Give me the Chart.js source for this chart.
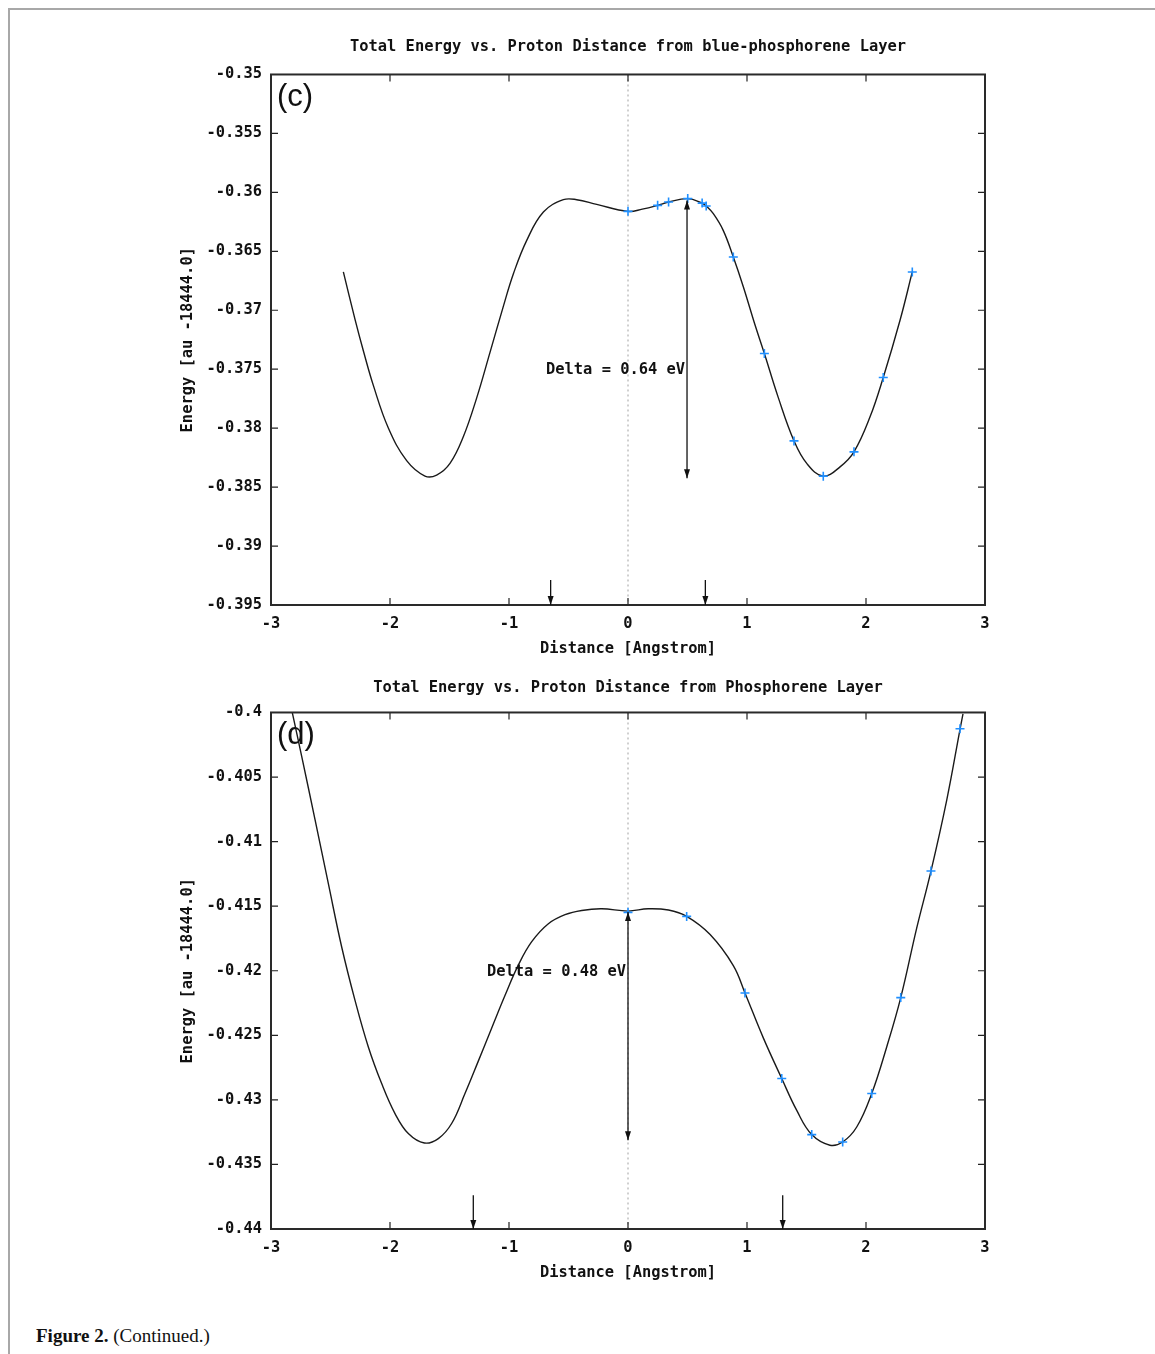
<!DOCTYPE html>
<html>
<head>
<meta charset="utf-8">
<script src="https://cdn.jsdelivr.net/npm/chart.js@4"></script>
<style>
  html, body { margin: 0; padding: 0; background: #fff; }
  body { width: 1155px; height: 1354px; position: relative; overflow: hidden; }
  .frame { position: absolute; left: 8px; top: 8px; right: -4px; bottom: -4px; border-left: 2px solid #a8a8a8; border-top: 2px solid #a8a8a8; }
  canvas { position: absolute; left: 0; }
  #chartC { top: 0; }
  #chartD { top: 624px; }
  .panel { position: absolute; left: 277px; font: 31px "Liberation Sans", Arial, sans-serif; line-height: 1; color: #111; }
  .caption { position: absolute; left: 36px; top: 1325px; font: 19px "Liberation Serif", serif; line-height: 22px; color: #111; }
</style>
</head>
<body>
<div class="frame"></div>
<canvas id="chartC" width="1155" height="668"></canvas>
<canvas id="chartD" width="1155" height="668"></canvas>
<div class="panel" style="top:80px">(c)</div>
<div class="panel" style="top:718px">(d)</div>
<div class="caption"><b>Figure 2.</b> (Continued.)</div>

<script>
// axis ticks
const xTicks = [-3, -2, -1, 0, 1, 2, 3];
const yTicksC = [-0.35, -0.355, -0.36, -0.365, -0.37, -0.375, -0.38, -0.385, -0.39, -0.395];
const yTicksD = [-0.4, -0.405, -0.41, -0.415, -0.42, -0.425, -0.43, -0.435, -0.44];

// (c) blue-phosphorene: fitted curve
const curveXC = [-2.392, -2.294, -2.224, -2.14, -2.014, -1.86, -1.706, -1.608, -1.496, -1.384, -1.272, -1.159, -1.047, -0.963, -0.851, -0.711, -0.543, -0.431, -0.263, 0,
  0.12, 0.249, 0.341, 0.502, 0.623, 0.657, 0.717, 0.8, 0.885, 0.969, 1.067, 1.146, 1.263, 1.395, 1.502, 1.641, 1.782, 1.899, 2.034, 2.145, 2.286, 2.389];
const curveYC = [-0.36675, -0.37077, -0.37343, -0.37637, -0.37998, -0.38275, -0.38406, -0.38398, -0.38299, -0.38073, -0.37745, -0.37355, -0.36965, -0.3669, -0.36407, -0.36167, -0.36062, -0.36062, -0.36102, -0.36161,
  -0.36142, -0.3611, -0.36082, -0.36053, -0.36091, -0.36116, -0.36181, -0.36322, -0.36548, -0.368, -0.37123, -0.37367, -0.37741, -0.38108, -0.38299, -0.38407, -0.38328, -0.38201, -0.37904, -0.3757, -0.37085, -0.36675];
// (c) computed points (blue crosses)
const markXC = [0, 0.249, 0.341, 0.502, 0.623, 0.657, 0.885, 1.146, 1.395, 1.641, 1.899, 2.145, 2.389];
const markYC = [-0.36161, -0.3611, -0.36082, -0.36053, -0.36091, -0.36116, -0.36548, -0.37367, -0.38108, -0.38407, -0.38201, -0.3757, -0.36675];

// (d) phosphorene
const curveXD = [-2.826, -2.742, -2.63, -2.518, -2.406, -2.294, -2.182, -2.07, -1.958, -1.846, -1.711, -1.594, -1.482, -1.37, -1.258, -1.146, -1.033, -0.921, -0.809, -0.669, -0.529, -0.389, -0.221, 0,
  0.17, 0.34, 0.493, 0.69, 0.885, 0.983, 1.137, 1.292, 1.417, 1.544, 1.697, 1.804, 1.922, 2.048, 2.174, 2.292, 2.426, 2.546, 2.678, 2.79, 2.815];
const curveYD = [-0.3998, -0.4034, -0.4083, -0.41326, -0.41816, -0.42229, -0.4259, -0.42874, -0.43106, -0.43261, -0.43334, -0.433, -0.43183, -0.42951, -0.427, -0.42445, -0.4219, -0.41955, -0.41775, -0.41636, -0.41566, -0.41533, -0.4152, -0.41538,
  -0.4152, -0.4153, -0.41579, -0.4172, -0.4196, -0.42172, -0.4252, -0.42835, -0.4308, -0.43269, -0.43351, -0.43326, -0.4321, -0.42951, -0.4259, -0.42208, -0.4167, -0.41228, -0.4068, -0.4013, -0.4001];
const markXD = [0, 0.493, 0.983, 1.292, 1.544, 1.804, 2.048, 2.292, 2.546, 2.79];
const markYD = [-0.41548, -0.41579, -0.42172, -0.42835, -0.43269, -0.43326, -0.42951, -0.42208, -0.41228, -0.40126];

// arrows: [x, yFrom, yTo, heads]
const arrowsC = [[0.496, -0.36068, -0.38424, 'both'], [-0.65, -0.39288, -0.395, 'end'], [0.65, -0.39288, -0.395, 'end']];
const arrowsD = [[0, -0.41546, -0.43313, 'both'], [-1.3, -0.43738, -0.44, 'end'], [1.3, -0.43738, -0.44, 'end']];
// label: [text, x (right edge), y]
const deltaC = ['Delta = 0.64 eV', 0.496, -0.37508];
const deltaD = ['Delta = 0.48 eV', 0, -0.42012];

const titleC = 'Total Energy vs. Proton Distance from blue-phosphorene Layer';
const titleD = 'Total Energy vs. Proton Distance from Phosphorene Layer';
const xTitle = 'Distance [Angstrom]';
const yTitle = 'Energy [au -18444.0]';

const monoFont = { family: '"DejaVu Sans Mono", monospace', size: 15.4, weight: 'bold', lineHeight: 1.2 };
const ink = '#111';

const fmt = v => v.toFixed(3).replace(/0+$/, '').replace(/\.$/, '');
const pts = (xs, ys) => xs.map((x, i) => ({ x, y: ys[i] }));

// gnuplot-ish frame: inward ticks on all sides, border box, arrows and label
const gnuFrame = {
  id: 'gnuFrame',
  afterDatasetsDraw(chart, args, o) {
    const { ctx, chartArea: a, scales: { x, y } } = chart;
    ctx.save();
    ctx.strokeStyle = '#222';
    ctx.lineWidth = 1.2;
    ctx.beginPath();
    x.ticks.forEach(t => {
      const px = x.getPixelForValue(t.value);
      ctx.moveTo(px, a.top); ctx.lineTo(px, a.top + 7);
      ctx.moveTo(px, a.bottom); ctx.lineTo(px, a.bottom - 7);
    });
    y.ticks.forEach(t => {
      const py = y.getPixelForValue(t.value);
      ctx.moveTo(a.left, py); ctx.lineTo(a.left + 7, py);
      ctx.moveTo(a.right, py); ctx.lineTo(a.right - 7, py);
    });
    ctx.stroke();
    ctx.lineWidth = 2;
    ctx.strokeStyle = '#2a2a2a';
    ctx.strokeRect(a.left, a.top, a.width, a.height);

    // arrows
    ctx.strokeStyle = '#111';
    ctx.fillStyle = '#111';
    ctx.lineWidth = 1.3;
    const head = (px, tip, dir) => {
      ctx.beginPath();
      ctx.moveTo(px, tip);
      ctx.lineTo(px - 3, tip - dir * 9);
      ctx.lineTo(px + 3, tip - dir * 9);
      ctx.closePath();
      ctx.fill();
    };
    o.arrows.forEach(([xv, y1, y2, heads]) => {
      const px = x.getPixelForValue(xv);
      const p1 = y.getPixelForValue(y1), p2 = y.getPixelForValue(y2);
      ctx.beginPath();
      ctx.moveTo(px, p1); ctx.lineTo(px, p2);
      ctx.stroke();
      head(px, p2, 1);
      if (heads === 'both') head(px, p1, -1);
    });

    ctx.font = 'bold 15.4px "DejaVu Sans Mono", monospace';
    ctx.textAlign = 'right';
    ctx.textBaseline = 'middle';
    ctx.fillStyle = ink;
    ctx.fillText(o.label[0], x.getPixelForValue(o.label[1]) - 2, y.getPixelForValue(o.label[2]));
    ctx.restore();
  }
};

function makeChart(id, cfg) {
  const yMin = Math.min(...cfg.yTicks), yMax = Math.max(...cfg.yTicks);
  return new Chart(document.getElementById(id), {
    type: 'scatter',
    data: {
      datasets: [
        {
          data: pts(cfg.markX, cfg.markY),
          pointStyle: 'cross',
          pointRadius: 4.5,
          pointBorderWidth: 1.6,
          borderColor: '#1f8fff',
          backgroundColor: '#1f8fff',
          order: 0
        },
        {
          data: pts(cfg.curveX, cfg.curveY),
          showLine: true,
          tension: 0.4,
          borderColor: '#1a1a1a',
          borderWidth: 1.4,
          pointRadius: 0,
          order: 1
        },
        {
          data: [{ x: 0, y: yMax }, { x: 0, y: yMin }],
          showLine: true,
          borderColor: '#a0a0a0',
          borderWidth: 1,
          borderDash: [2, 3],
          pointRadius: 0,
          order: 2
        }
      ]
    },
    options: {
      responsive: false,
      animation: false,
      devicePixelRatio: 1,
      layout: { padding: { top: 20, left: 170, right: 69, bottom: 0 } },
      plugins: {
        legend: { display: false },
        tooltip: { enabled: false },
        title: {
          display: true,
          text: cfg.title,
          color: ink,
          font: monoFont,
          padding: cfg.titlePad
        },
        gnuFrame: { arrows: cfg.arrows, label: cfg.label }
      },
      scales: {
        x: {
          type: 'linear',
          min: -3,
          max: 3,
          afterBuildTicks: s => { s.ticks = xTicks.map(v => ({ value: v })); },
          afterFit: s => { s.height = 63; },
          grid: { display: false, drawTicks: false },
          border: { display: false },
          ticks: { color: ink, font: monoFont, padding: 10, maxRotation: 0, callback: v => String(v) },
          title: { display: true, text: xTitle, color: ink, font: monoFont, padding: { top: 0, bottom: 10 } }
        },
        y: {
          type: 'linear',
          min: yMin,
          max: yMax,
          afterBuildTicks: s => { s.ticks = cfg.yTicks.map(v => ({ value: v })); },
          afterFit: s => { s.width = 101; },
          grid: { display: false, drawTicks: false },
          border: { display: false },
          ticks: { color: ink, font: monoFont, padding: 9, callback: v => fmt(v) },
          title: { display: true, text: yTitle, color: ink, font: monoFont, padding: { top: 9, bottom: 0 } }
        },
        // empty right gutter so the title centres over the plot
        yPad: {
          type: 'linear',
          position: 'right',
          afterFit: s => { s.width = 101; },
          grid: { display: false, drawTicks: false },
          border: { display: false },
          ticks: { display: false }
        }
      }
    },
    plugins: [gnuFrame]
  });
}

makeChart('chartC', {
  title: titleC, titlePad: { top: 18, bottom: 18 }, yTicks: yTicksC,
  curveX: curveXC, curveY: curveYC, markX: markXC, markY: markYC,
  arrows: arrowsC, label: deltaC
});

makeChart('chartD', {
  title: titleD, titlePad: { top: 35, bottom: 15 }, yTicks: yTicksD,
  curveX: curveXD, curveY: curveYD, markX: markXD, markY: markYD,
  arrows: arrowsD, label: deltaD
});
</script>
</body>
</html>
